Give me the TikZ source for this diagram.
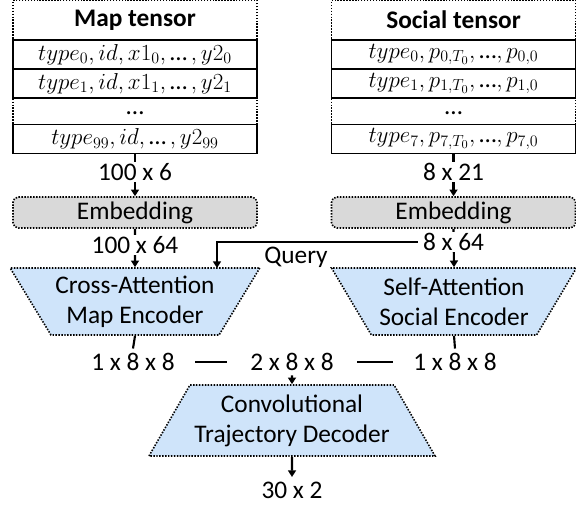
\documentclass[tikz,border=0pt]{standalone}
\usepackage{fontspec}
\setmainfont{Carlito}
\usetikzlibrary{shapes.geometric,arrows.meta}

\definecolor{embgray}{RGB}{217,217,217}
\definecolor{encblue}{RGB}{207,228,250}

\newcommand{\tdots}{\mbox{…}}

\tikzset{
  dotline/.style={line width=1.2pt, dash pattern=on 1.1pt off 1.1pt},
  tensor/.style={draw, dotline, minimum width=183pt, minimum height=114.75pt, inner sep=0pt},
  tensorrow/.style={draw, line width=1pt, minimum width=183pt, minimum height=21.75pt, inner sep=0pt,
    font=\fontsize{18.5}{20}\selectfont},
  embed/.style={draw, dotline, rounded corners=4pt, fill=embgray, minimum width=183pt, minimum height=23.25pt},
  encoder/.style={trapezium, shape border rotate=180, trapezium stretches=true, draw, dotline,
    fill=encblue, minimum width=183.75pt, minimum height=50.25pt, trapezium angle=56, align=center},
  decoderbox/.style={trapezium, trapezium stretches=true, draw, dotline,
    fill=encblue, minimum width=182pt, minimum height=53.25pt, trapezium angle=56, align=center},
  flow/.style={line width=1.6pt, -{Triangle[length=5pt,width=6pt]}},
  plain/.style={line width=1.6pt},
  size/.style={fill=white, inner xsep=4pt, inner ysep=1pt},
}

\begin{document}
\begin{tikzpicture}[x=0.75pt, y=-0.75pt, font=\fontsize{19}{22.5}\selectfont]

        \useasboundingbox (0,0) rectangle (576,505);

        % Map tensor
        \node[tensor] (map) at (135,77) {};
        \node[font=\fontsize{19}{22.5}\selectfont\bfseries] (maptitle) at (135,20) {Map tensor};
        \node[tensorrow] (maprow0) at (135,54.5) {$type_{0}, id, x1_{0}, \tdots\,, y2_{0}$};
        \node[tensorrow] (maprow1) at (135,83.5) {$type_{1}, id, x1_{1}, \tdots\,, y2_{1}$};
        \node[inner sep=1pt] (mapdots) at (135,113) {…};
        \node[tensorrow] (maprow99) at (135,139) {$type_{99}, id, \tdots\,, y2_{99}$};

        % Social tensor
        \node[tensor] (social) at (453.5,77) {};
        \node[font=\fontsize{19}{22.5}\selectfont\bfseries] (socialtitle) at (453.5,20) {Social tensor};
        \node[tensorrow] (socrow0) at (453.5,54.5) {$type_{0}, p_{0,T_{0}}, \tdots, p_{0,0}$};
        \node[tensorrow] (socrow1) at (453.5,83.5) {$type_{1}, p_{1,T_{0}}, \tdots, p_{1,0}$};
        \node[inner sep=1pt] (socdots) at (453.5,113) {…};
        \node[tensorrow] (socrow7) at (453.5,139) {$type_{7}, p_{7,T_{0}}, \tdots, p_{7,0}$};

        % Embeddings
        \node[embed] (embmap) at (135,212.5) {Embedding};
        \node[embed] (embsoc) at (453.5,212.5) {Embedding};

        % Encoders
        \node[encoder] (crossenc) at (135,301.5) {Cross-Attention\\Map Encoder};
        \node[encoder] (selfenc) at (454,301.5) {Self-Attention\\Social Encoder};

        % Decoder
        \node[decoderbox] (decoder) at (292,420.5) {Convolutional\\Trajectory Decoder};

        % Tensor -> Embedding
        \draw[flow] (map.south) -- (embmap.north);
        \draw[flow] (social.south) -- (embsoc.north);
        \node[size] (mapin) at (135,172) {100 x 6};
        \node[size] (socin) at (453.5,172) {8 x 21};

        % Query
        \coordinate (qstart) at (453.5,242);
        \coordinate (qend) at (217,268);
        \draw[flow] (qstart) -| (qend);
        \node (query) at (296,257) {Query};

        % Embedding -> Encoder
        \draw[flow] (embmap.south) -- (crossenc.north);
        \draw[flow] (embsoc.south) -- (selfenc.north);
        \node[size] (mapemb) at (135,245) {100 x 64};
        \node[size] (socemb) at (453.5,242) {8 x 64};

        % Encoder outputs
        \node (mapout) at (133,362) {1 x 8 x 8};
        \node (catout) at (292,362) {2 x 8 x 8};
        \node (socout) at (455,362) {1 x 8 x 8};
        \draw[plain] (crossenc.south) -- (mapout.north);
        \draw[plain] (selfenc.south) -- (socout.north);
        \draw[plain, shorten <=12pt, shorten >=14pt] (mapout.east) -- (catout.west);
        \draw[plain, shorten <=14pt, shorten >=12pt] (catout.east) -- (socout.west);
        \draw[flow] (catout.south) -- (decoder.north);

        % Output
        \node (traj) at (292,490) {30 x 2};
        \draw[flow] (decoder.south) -- (traj.north);

\end{tikzpicture}
\end{document}
